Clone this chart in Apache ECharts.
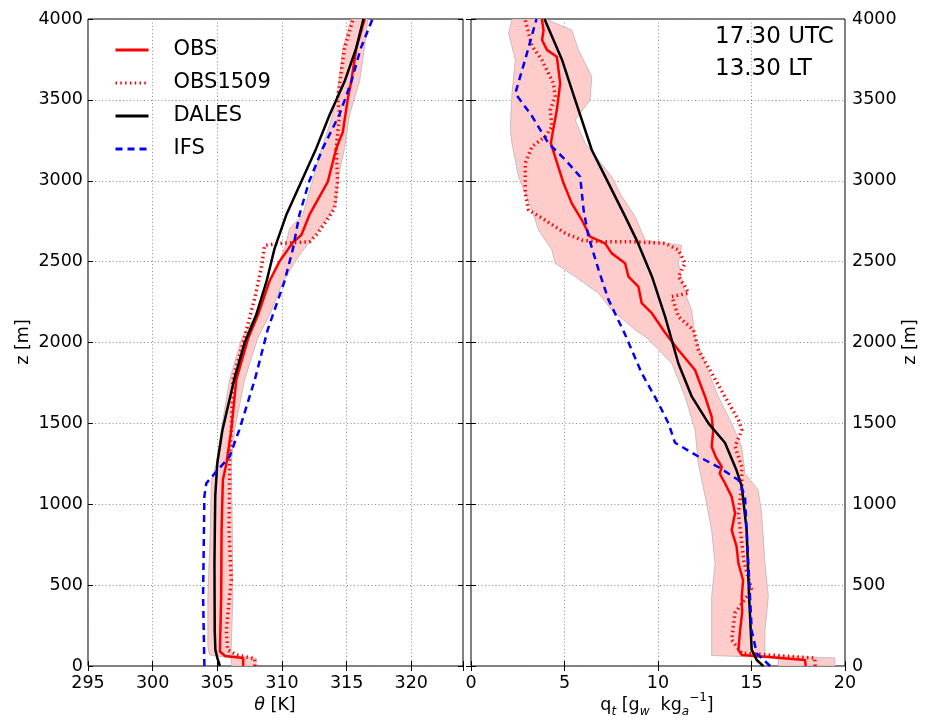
<!DOCTYPE html>
<html><head><meta charset="utf-8">
<script src="https://cdn.jsdelivr.net/npm/echarts@6/dist/echarts.min.js"></script>
<style>html,body{margin:0;padding:0;background:#fff}#c{width:928px;height:723px}</style>
</head><body><div id="c"></div><script>
// ---------- DATA (value, height z in m) ----------
const thetaTicks = [295, 300, 305, 310, 315, 320];
const qtTicks = [0, 5, 10, 15, 20];
const zTicks = [0, 500, 1000, 1500, 2000, 2500, 3000, 3500, 4000];

// Left panel: potential temperature theta [K]
const thetaOBS = [[307.0,0],[307.0,50],[305.6,62],[305.2,90],[305.3,430],[305.33,840],[305.43,1150],[305.7,1250],[306.08,1460],[306.47,1770],[307.4,2030],[308.14,2170],[309.04,2380],[309.8,2500],[310.85,2620],[311.5,2665],[312.13,2790],[313.55,2995],[314.2,3200],[314.7,3300],[315.1,3510],[315.35,3610],[315.75,3820],[316.4,4000]];
const thetaOBS1509 = [[307.9,0],[307.9,45],[306.5,68],[305.8,100],[305.7,220],[305.95,430],[306.08,530],[305.9,840],[305.95,1150],[305.95,1300],[306.08,1460],[306.2,1770],[307.0,2000],[307.88,2270],[308.4,2460],[308.66,2600],[309.8,2613],[312.13,2623],[312.65,2665],[313.42,2750],[314.07,2830],[314.3,2995],[314.2,3200],[314.45,3410],[314.3,3510],[314.84,3820],[315.5,4000]];
const thetaDALES = [[305.2,0],[305.0,50],[304.85,100],[304.8,220],[304.78,640],[304.84,1050],[305.0,1255],[305.4,1460],[306.3,1770],[307.1,1995],[308.0,2170],[308.8,2376],[309.43,2582],[310.33,2788],[311.49,2994],[312.65,3200],[313.68,3407],[314.84,3613],[315.74,3819],[316.3,4000]];
const thetaIFS = [[304.0,0],[303.9,430],[304.0,1050],[304.15,1130],[304.8,1190],[305.95,1295],[306.7,1460],[307.9,1770],[308.9,2080],[310.2,2380],[310.85,2580],[311.35,2790],[312.1,2995],[313.15,3200],[314.45,3410],[315.35,3610],[316.1,3820],[317.0,4000]];
const thetaBandLow = [[306.08,0],[306.08,50],[304.4,68],[304.27,120],[304.27,430],[304.46,840],[304.54,1150],[304.92,1250],[305.3,1460],[305.95,1770],[306.9,2030],[308.01,2170],[308.79,2335],[309.56,2459],[310.2,2582],[310.59,2706],[311.6,2788],[312.34,2994],[312.9,3159],[313.68,3345],[314.24,3510],[314.71,3819],[315.36,4000]];
const thetaBandHigh = [[308.0,0],[308.0,48],[306.08,68],[306.08,120],[306.2,430],[306.16,840],[306.08,1250],[306.34,1460],[307.11,1770],[308.14,2030],[309.04,2170],[310.07,2376],[311.36,2541],[312.13,2623],[312.9,2706],[313.68,2788],[314.2,2871],[314.45,3056],[314.84,3200],[315.22,3407],[316.0,3613],[316.38,3819],[316.64,4000]];

// Right panel: total specific humidity q_t [g/kg]
const qtOBS = [[17.9,0],[17.86,37],[15.72,57],[14.48,68],[14.3,100],[14.39,220],[14.5,330],[14.48,430],[14.55,530],[14.3,635],[14.2,740],[13.94,840],[14.12,945],[13.94,1047],[13.58,1130],[13.3,1190],[13.41,1232],[13.1,1290],[12.87,1356],[12.95,1450],[12.87,1541],[12.52,1665],[11.98,1830],[11.09,1954],[10.38,2060],[9.67,2181],[9.13,2243],[8.95,2346],[8.42,2407],[8.24,2490],[7.53,2551],[7.17,2613],[6.37,2654],[5.93,2757],[5.39,2860],[4.95,2984],[4.5,3147],[4.27,3232],[4.36,3293],[4.59,3437],[4.77,3602],[4.59,3767],[4.06,3809],[3.8,3870],[3.88,3930],[3.79,4000]];
const qtOBS1509 = [[18.4,0],[18.39,49],[15.72,70],[14.48,80],[13.94,161],[14.12,328],[15.01,470],[14.6,640],[14.3,945],[14.48,1109],[14.48,1232],[14.12,1356],[14.48,1459],[14.3,1521],[13.58,1665],[12.87,1811],[12.16,1954],[11.9,2077],[11.09,2160],[10.74,2284],[11.63,2305],[11.45,2346],[11.09,2407],[11.45,2490],[11.09,2572],[10.38,2613],[8.6,2623],[6.82,2623],[5.93,2633],[5.04,2675],[3.97,2757],[3.08,2819],[2.9,2922],[2.9,3108],[3.26,3211],[3.97,3273],[4.33,3334],[4.24,3437],[4.5,3520],[4.41,3602],[3.79,3747],[3.26,3834],[2.9,3993]];
const qtDALES = [[15.63,0],[15.28,37],[15.01,100],[14.87,430],[14.74,840],[14.48,1110],[14.2,1210],[13.58,1380],[12.7,1500],[11.81,1665],[11.09,1870],[10.65,2050],[10.38,2160],[9.67,2410],[8.87,2630],[8.24,2780],[7.35,2985],[6.46,3190],[5.57,3500],[4.86,3750],[3.93,4000]];
const qtIFS = [[16.0,0],[15.28,78],[15.01,220],[14.83,635],[14.65,1050],[14.3,1150],[13.23,1230],[12.16,1295],[10.91,1380],[10.56,1500],[10.02,1625],[9.13,1810],[8.24,2050],[7.35,2265],[6.82,2450],[6.28,2655],[6.02,2820],[5.84,3025],[5.04,3130],[4.15,3230],[3.26,3400],[2.37,3540],[2.9,3750],[3.43,3970],[3.5,4000]];
const qtBandLow = [[16.43,0],[16.43,50],[12.87,65],[12.87,100],[12.87,220],[12.87,430],[13.05,635],[12.87,840],[12.52,1050],[12.16,1250],[11.98,1460],[11.45,1665],[10.74,1870],[9.4,2030],[8.78,2077],[7.53,2200],[6.82,2304],[5.57,2407],[4.5,2490],[4.33,2572],[3.61,2696],[3.26,2819],[2.54,3025],[2.19,3231],[2.1,3314],[2.19,3540],[2.37,3747],[2.01,3911],[2.19,4000]];
const qtBandHigh = [[19.46,0],[19.46,50],[15.72,65],[15.72,100],[15.72,220],[15.9,430],[15.72,635],[15.54,944],[15.36,1088],[14.65,1191],[14.48,1356],[13.94,1500],[13.23,1665],[12.52,1871],[11.98,2036],[11.8,2201],[11.45,2304],[11.09,2490],[11.27,2600],[9.31,2634],[8.78,2778],[8.07,2902],[7.53,3025],[6.82,3128],[6.11,3231],[5.57,3376],[6.37,3499],[6.46,3643],[5.75,3808],[5.39,3932],[3.97,4000]];

// ---------- CHART ----------
const FONT = 'DejaVu Sans';
const FS = 17.5;
const chart = echarts.init(document.getElementById('c'), null, {renderer: 'canvas'});

const gridLine = {show: true, lineStyle: {color: '#8c8c8c', type: [1, 2.5], width: 1}};
const tick = {show: true, inside: true, length: 5, lineStyle: {color: '#000', width: 1}};
const lbl = {color: '#000', fontSize: FS, fontFamily: FONT};

function xMain(grid, min, max, ticks) {
  return {gridIndex: grid, type: 'value', min: min, max: max, interval: 5, position: 'bottom',
    axisLine: {show: false}, axisTick: tick, splitLine: gridLine,
    axisLabel: Object.assign({margin: 8, formatter: v => ticks.indexOf(v) >= 0 ? String(v) : ''}, lbl)};
}
function xTop(grid, min, max) {
  return {gridIndex: grid, type: 'value', min: min, max: max, interval: 5, position: 'top',
    axisLine: {show: false}, axisTick: tick, splitLine: {show: false}, axisLabel: {show: false}};
}
function yMain(grid, pos, margin) {
  return {gridIndex: grid, type: 'value', min: 0, max: 4000, interval: 500, position: pos,
    axisLine: {show: false}, axisTick: tick, splitLine: gridLine,
    axisLabel: Object.assign({margin: margin, formatter: v => zTicks.indexOf(v) >= 0 ? String(v) : ''}, lbl)};
}
function yOther(grid, pos) {
  return {gridIndex: grid, type: 'value', min: 0, max: 4000, interval: 500, position: pos,
    axisLine: {show: false}, axisTick: tick, splitLine: {show: false}, axisLabel: {show: false}};
}

function band(xi, yi, upper, lower) {
  const poly = upper.concat(lower.slice().reverse());
  return {
    type: 'custom', name: 'band', xAxisIndex: xi, yAxisIndex: yi, silent: true, clip: true, z: 1,
    data: poly, encode: {x: 0, y: 1},
    renderItem: function (params, api) {
      if (params.dataIndex !== 0) return null;
      const pts = poly.map(p => api.coord(p));
      return {type: 'polygon', shape: {points: pts},
        style: {fill: '#ffcccc', stroke: 'rgba(175,175,175,0.7)', lineWidth: 1}};
    }
  };
}
function line(name, xi, yi, data, color, width, type, z) {
  return {type: 'line', name: name, xAxisIndex: xi, yAxisIndex: yi, data: data,
    showSymbol: false, symbol: 'none', z: z, clip: true,
    lineStyle: {color: color, width: width, type: type, cap: 'butt'},
    itemStyle: {color: 'rgba(0,0,0,0)', borderColor: 'rgba(0,0,0,0)', opacity: 0}};
}

const DOT = [1.5, 3.3];
const DASH = [7, 5];

const option = {
  animation: false,
  backgroundColor: '#fff',
  textStyle: {fontFamily: FONT},
  grid: [
    {left: 88, top: 19, width: 375, height: 647, show: true, borderColor: '#000', borderWidth: 1, backgroundColor: 'transparent'},
    {left: 471, top: 19, width: 374, height: 647, show: true, borderColor: '#000', borderWidth: 1, backgroundColor: 'transparent'}
  ],
  xAxis: [xMain(0, 295, 324, thetaTicks), xTop(0, 295, 324), xMain(1, 0, 20, qtTicks), xTop(1, 0, 20)],
  yAxis: [yMain(0, 'left', 5), yOther(0, 'right'), yMain(1, 'right', 7), yOther(1, 'left')],
  legend: {
    data: ['OBS', 'OBS1509', 'DALES', 'IFS'],
    orient: 'vertical', left: 114, top: 39, padding: 0,
    itemWidth: 33, itemHeight: 14, itemGap: 11,
    itemStyle: {opacity: 0, color: 'rgba(0,0,0,0)', borderWidth: 0},
    lineStyle: {width: 3},
    textStyle: {color: '#000', fontSize: 21, fontFamily: FONT, lineHeight: 22, padding: [0, 0, 0, 20]},
    selectedMode: false
  },
  graphic: [
    {type: 'text', left: 715, top: 26, style: {text: '17.30 UTC', font: '23px "DejaVu Sans"', fill: '#000'}},
    {type: 'text', left: 715, top: 58, style: {text: '13.30 LT', font: '23px "DejaVu Sans"', fill: '#000'}},
    {type: 'text', x: 275, y: 705, style: {text: '{i|θ} [K]', fill: '#000', align: 'center', verticalAlign: 'middle',
      fontSize: FS, fontFamily: FONT, rich: {i: {fontStyle: 'italic', fontSize: FS, fontFamily: FONT}}}},
    {type: 'text', x: 657, y: 705, style: {
      text: 'q{s|t} [g{s|w}  kg{s|a}{p|−1}]', fill: '#000', align: 'center', verticalAlign: 'middle',
      fontSize: FS, fontFamily: FONT, lineHeight: 26,
      rich: {
        s: {fontSize: 12, fontStyle: 'italic', fontFamily: FONT, verticalAlign: 'bottom', lineHeight: 12},
        p: {fontSize: 12, fontFamily: FONT, verticalAlign: 'top', lineHeight: 12}
      }}},
    {type: 'text', x: 23, y: 342, rotation: Math.PI / 2, style: {text: 'z [m]', fill: '#000', align: 'center', verticalAlign: 'middle', fontSize: FS, fontFamily: FONT}},
    {type: 'text', x: 910, y: 342, rotation: Math.PI / 2, style: {text: 'z [m]', fill: '#000', align: 'center', verticalAlign: 'middle', fontSize: FS, fontFamily: FONT}}
  ],
  series: [
    band(0, 0, thetaBandHigh, thetaBandLow),
    line('OBS', 0, 0, thetaOBS, '#ff0000', 2.5, 'solid', 3),
    line('OBS1509', 0, 0, thetaOBS1509, '#ff0000', 3.5, DOT, 4),
    line('DALES', 0, 0, thetaDALES, '#000000', 2.5, 'solid', 5),
    line('IFS', 0, 0, thetaIFS, '#0000ff', 2.5, DASH, 6),
    band(2, 2, qtBandHigh, qtBandLow),
    line('OBS', 2, 2, qtOBS, '#ff0000', 2.5, 'solid', 3),
    line('OBS1509', 2, 2, qtOBS1509, '#ff0000', 3.5, DOT, 4),
    line('DALES', 2, 2, qtDALES, '#000000', 2.5, 'solid', 5),
    line('IFS', 2, 2, qtIFS, '#0000ff', 2.5, DASH, 6)
  ]
};
chart.setOption(option);
</script></body></html>
